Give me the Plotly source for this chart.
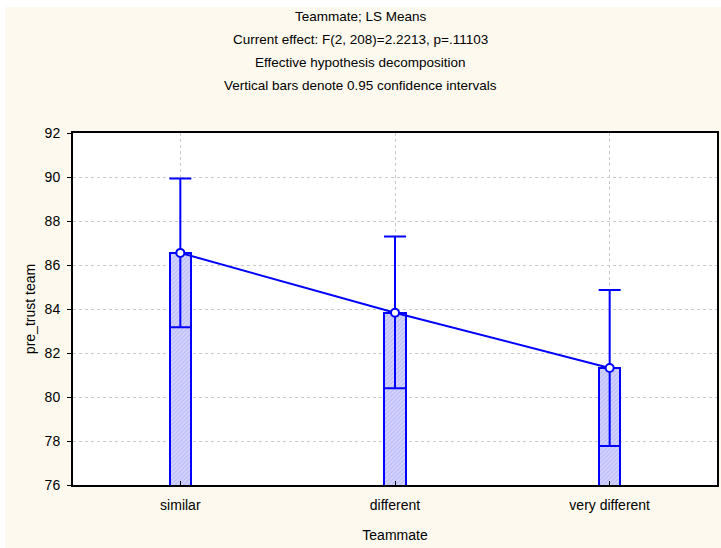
import plotly.graph_objects as go

categories = ["similar", "different", "very different"]
means = [86.55, 83.83, 81.32]
lower_ci = [83.17, 80.40, 77.77]
upper_ci = [89.93, 87.29, 84.86]
y_ticks = [76, 78, 80, 82, 84, 86, 88, 90, 92]

title_lines = [
    "Teammate; LS Means",
    "Current effect: F(2, 208)=2.2213, p=.11103",
    "Effective hypothesis decomposition",
    "Vertical bars denote 0.95 confidence intervals",
]

BLUE = "#0000FF"
FONT = "Liberation Sans"

fig = go.Figure()

fig.add_trace(go.Bar(
    x=categories, y=means, width=0.1,
    marker=dict(
        color="#c4c4fa",
        line=dict(color=BLUE, width=2),
        pattern=dict(shape="/", fgcolor="#9a9af2", bgcolor="#d4d4ff", size=3, solidity=0.35),
    ),
    hoverinfo="skip", showlegend=False,
))

fig.add_trace(go.Scatter(
    x=categories, y=means, mode="lines+markers",
    line=dict(color=BLUE, width=2),
    marker=dict(symbol="circle", size=8, color="white", line=dict(color=BLUE, width=2)),
    error_y=dict(
        type="data", symmetric=False,
        array=[u - m for u, m in zip(upper_ci, means)],
        arrayminus=[m - l for m, l in zip(means, lower_ci)],
        color=BLUE, thickness=2, width=11,
    ),
    showlegend=False,
))

annotations = []
for i, t in enumerate(title_lines):
    annotations.append(dict(
        text=t, xref="paper", yref="paper", x=(360.5 - 73) / 644, y=(485 - (16 + i * 23.3)) / 352,
        xanchor="center", yanchor="middle", showarrow=False,
        font=dict(family=FONT, size=13.5, color="#000000"),
    ))

shapes = [
    dict(type="rect", xref="paper", yref="paper", x0=-0.5, x1=2, y0=(485 - 7) / 352, y1=2,
         fillcolor="white", line=dict(width=0), layer="above"),
    dict(type="rect", xref="paper", yref="paper", x0=-0.5, x1=(5 - 73) / 644, y0=-1, y1=2,
         fillcolor="white", line=dict(width=0), layer="above"),
]

fig.update_layout(
    width=721, height=548,
    margin=dict(l=73, r=4, t=133, b=63, autoexpand=False),
    paper_bgcolor="#FDF9EE",
    plot_bgcolor="white",
    font=dict(family=FONT, size=12, color="black"),
    annotations=annotations,
    shapes=shapes,
    bargap=0,
    xaxis=dict(
        type="category", range=[-0.5, 2.5],
        showline=True, mirror=True, linecolor="black", linewidth=2,
        ticks="inside", ticklen=4, tickcolor="black", tickwidth=1,
        showgrid=True, gridcolor="#c8c8c8", griddash="3px,3px", gridwidth=1,
        title=dict(text="Teammate", font=dict(family=FONT, size=14), standoff=18),
        tickfont=dict(family=FONT, size=14),
        ticklabelstandoff=6,
        zeroline=False, automargin=False,
    ),
    yaxis=dict(
        range=[76, 92], tickvals=y_ticks,
        showline=True, mirror=True, linecolor="black", linewidth=2,
        ticks="outside", ticklen=4, tickcolor="black", tickwidth=1,
        showgrid=True, gridcolor="#c8c8c8", griddash="3px,3px", gridwidth=1,
        title=dict(text="pre_trust team", font=dict(family=FONT, size=14), standoff=6),
        tickfont=dict(family=FONT, size=14),
        ticklabelstandoff=4,
        zeroline=False, automargin=False,
    ),
)

fig.write_html(
    "out.html",
    config={"displayModeBar": False},
    post_script="document.body.style.margin='0';document.body.style.padding='0';",
)
